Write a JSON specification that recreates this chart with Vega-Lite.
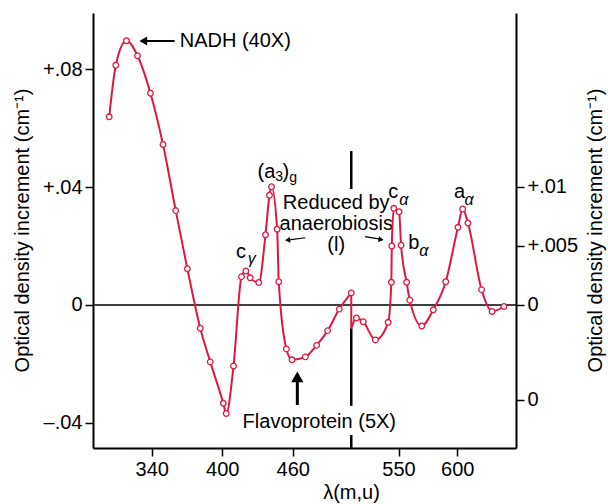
{
  "$schema": "https://vega.github.io/schema/vega-lite/v6.json",
  "width": 423,
  "height": 435,
  "autosize": {"type": "none"},
  "padding": {"left": 93, "top": 13, "right": 92, "bottom": 56},
  "background": "white",
  "config": {
    "view": {"stroke": null},
    "font": "Liberation Sans",
    "axis": {
      "domainColor": "black", "domainWidth": 2, "tickColor": "black", "tickWidth": 1.5, "tickSize": 8,
      "labelFont": "Liberation Sans", "labelFontSize": 20, "labelColor": "black", "labelPadding": 3,
      "titleFont": "Liberation Sans", "titleFontSize": 20, "titleFontWeight": "normal", "titleColor": "black",
      "grid": false, "labelFlush": false
    }
  },
  "datasets": {
    "curveL": [
      {"x": 303.8, "y": 0.0638}, {"x": 309.4, "y": 0.0813}, {"x": 318.5, "y": 0.0896},
      {"x": 327.9, "y": 0.0845}, {"x": 338.9, "y": 0.0718}, {"x": 349.6, "y": 0.0544},
      {"x": 360.4, "y": 0.0320}, {"x": 370.3, "y": 0.0123}, {"x": 381.3, "y": -0.0079},
      {"x": 389.8, "y": -0.0193}, {"x": 400.9, "y": -0.0333}, {"x": 403.4, "y": -0.0368},
      {"x": 409.6, "y": -0.0207}, {"x": 416.4, "y": 0.0096}, {"x": 420.1, "y": 0.0115},
      {"x": 423.8, "y": 0.0092}, {"x": 431.1, "y": 0.0076}, {"x": 436.8, "y": 0.0238},
      {"x": 440.2, "y": 0.0372}, {"x": 441.9, "y": 0.0401}, {"x": 446.7, "y": 0.0257},
      {"x": 448.1, "y": 0.0079}, {"x": 454.6, "y": -0.0149}, {"x": 459.4, "y": -0.0186},
      {"x": 470.7, "y": -0.0176}, {"x": 480.3, "y": -0.0137}, {"x": 489.7, "y": -0.0087},
      {"x": 499.6, "y": -0.0014}, {"x": 509.8, "y": 0.0041}
    ],
    "drop": [{"x": 509.8, "x2": 509.8, "y": 0.0041, "y2": -0.0079}],
    "curveR": [
      {"x": 509.8, "y": -0.00197, "m": 0}, {"x": 514.2, "y": -0.00110, "m": 1}, {"x": 520.0, "y": -0.00142, "m": 1},
      {"x": 530.3, "y": -0.00296, "m": 1}, {"x": 541.2, "y": -0.00147, "m": 1}, {"x": 543.9, "y": 0.00192, "m": 1},
      {"x": 544.3, "y": 0.00500, "m": 1}, {"x": 546.0, "y": 0.00819, "m": 1}, {"x": 550.5, "y": 0.00790, "m": 1},
      {"x": 552.2, "y": 0.00506, "m": 1}, {"x": 556.9, "y": 0.00192, "m": 1}, {"x": 559.6, "y": 0.00041, "m": 1},
      {"x": 569.8, "y": -0.00178, "m": 1}, {"x": 579.6, "y": -0.00041, "m": 1}, {"x": 590.2, "y": 0.00197, "m": 1},
      {"x": 600.6, "y": 0.00658, "m": 1}, {"x": 604.6, "y": 0.00813, "m": 1}, {"x": 609.1, "y": 0.00695, "m": 1},
      {"x": 620.7, "y": 0.00130, "m": 1}, {"x": 629.7, "y": -0.00055, "m": 1}, {"x": 639.7, "y": -0.00013, "m": 1}
    ],
    "zero": [{"x": 290, "x2": 650, "y": 0, "y2": 0}],
    "vlines": [
      {"x": 509.8, "x2": 509.8, "y": 0.0522, "y2": 0.0393},
      {"x": 509.8, "x2": 509.8, "y": -0.0079, "y2": -0.0342},
      {"x": 509.8, "x2": 509.8, "y": -0.0441, "y2": -0.0488}
    ],
    "nadhShaft": [{"x": 332.4, "x2": 359.5, "y": 0.0895, "y2": 0.0895}],
    "nadhHead": [{"x": 332.8, "y": 0.0895}],
    "smallShafts": [
      {"x": 470.7, "x2": 457.1, "y": 0.0228, "y2": 0.0221},
      {"x": 521.4, "x2": 534.4, "y": 0.0232, "y2": 0.0223}
    ],
    "headL": [{"x": 455.6, "y": 0.0220}],
    "headR": [{"x": 535.2, "y": 0.0222}],
    "upShaft": [{"x": 463.9, "x2": 463.9, "y": -0.0339, "y2": -0.0260}],
    "upHead": [{"x": 463.9, "y": -0.0244}],
    "txtL": [
      {"x": 363.8, "y": 0.0895, "t": "NADH (40X)"},
      {"x": 430.0, "y": 0.0451, "t": "(a"},
      {"x": 451.2, "y": 0.0451, "t": ")"},
      {"x": 411.8, "y": 0.0180, "t": "c"},
      {"x": 541.2, "y": 0.0383, "t": "c"},
      {"x": 558.2, "y": 0.0210, "t": "b"},
      {"x": 597.2, "y": 0.0383, "t": "a"}
    ],
    "txtSub": [
      {"x": 445.0, "y": 0.0434, "t": "3"},
      {"x": 457.1, "y": 0.0431, "t": "g"}
    ],
    "txtGreek": [
      {"x": 421.7, "y": 0.0157, "t": "γ"},
      {"x": 550.6, "y": 0.0357, "t": "α"},
      {"x": 567.6, "y": 0.0184, "t": "α"},
      {"x": 606.2, "y": 0.0357, "t": "α"}
    ],
    "txtMulti": [
      {"x": 497.0, "y": 0.0346, "t": "Reduced by\nanaerobiosis\n(l)"}
    ],
    "txtC": [
      {"x": 482.6, "y": -0.0397, "t": "Flavoprotein (5X)"}
    ]
  },
  "encoding": {
    "x": {
      "field": "x", "type": "quantitative",
      "scale": {"domain": [290, 650], "nice": false, "zero": false},
      "axis": {"values": [340, 400, 460, 550, 600], "title": "λ(m,u)", "titleX": 258, "titleY": 44, "titleBaseline": "middle", "titleAlign": "center"}
    }
  },
  "layer": [
    {
      "encoding": {
        "y": {
          "field": "y", "type": "quantitative",
          "scale": {"domain": [-0.0485, 0.0990], "nice": false, "zero": false},
          "axis": {
            "orient": "left", "values": [0.08, 0.04, 0, -0.04],
            "labelExpr": "datum.value > 0.06 ? '+.08' : datum.value > 0.02 ? '+.04' : datum.value > -0.02 ? '0' : '–.04'",
            "title": "Optical density increment (cm⁻¹)", "titleX": -71, "titleY": 217, "titleAngle": 270,
            "titleBaseline": "middle", "titleAlign": "center"
          }
        }
      },
      "layer": [
        {"data": {"name": "zero"}, "mark": {"type": "rule", "color": "black", "strokeWidth": 1.6}, "encoding": {"x2": {"field": "x2"}, "y2": {"field": "y2"}}},
        {"data": {"name": "vlines"}, "mark": {"type": "rule", "color": "black", "strokeWidth": 2.5}, "encoding": {"x2": {"field": "x2"}, "y2": {"field": "y2"}}},
        {"data": {"name": "nadhShaft"}, "mark": {"type": "rule", "color": "black", "strokeWidth": 1.8}, "encoding": {"x2": {"field": "x2"}, "y2": {"field": "y2"}}},
        {"data": {"name": "nadhHead"}, "mark": {"type": "point", "shape": "triangle-left", "filled": true, "color": "black", "size": 80, "opacity": 1}},
        {"data": {"name": "smallShafts"}, "mark": {"type": "rule", "color": "black", "strokeWidth": 1.2}, "encoding": {"x2": {"field": "x2"}, "y2": {"field": "y2"}}},
        {"data": {"name": "headL"}, "mark": {"type": "point", "shape": "triangle-left", "filled": true, "color": "black", "size": 35, "angle": -6, "opacity": 1}},
        {"data": {"name": "headR"}, "mark": {"type": "point", "shape": "triangle-right", "filled": true, "color": "black", "size": 35, "angle": 9, "opacity": 1}},
        {"data": {"name": "upShaft"}, "mark": {"type": "rule", "color": "black", "strokeWidth": 3}, "encoding": {"x2": {"field": "x2"}, "y2": {"field": "y2"}}},
        {"data": {"name": "upHead"}, "mark": {"type": "point", "shape": "triangle-up", "filled": true, "color": "black", "size": 150, "opacity": 1}},
        {"data": {"name": "drop"}, "mark": {"type": "rule", "color": "#e3173e", "strokeWidth": 2}, "encoding": {"x2": {"field": "x2"}, "y2": {"field": "y2"}}},
        {"data": {"name": "curveL"}, "mark": {"type": "line", "color": "#e3173e", "strokeWidth": 2, "interpolate": "monotone"}},
        {"data": {"name": "curveL"}, "mark": {"type": "point", "filled": true, "fill": "white", "stroke": "#e3173e", "strokeWidth": 1.3, "size": 32, "opacity": 1}},
        {"data": {"name": "txtL"}, "mark": {"type": "text", "align": "left", "baseline": "middle", "fontSize": 20, "color": "black"}, "encoding": {"text": {"field": "t"}}},
        {"data": {"name": "txtSub"}, "mark": {"type": "text", "align": "left", "baseline": "middle", "fontSize": 14, "color": "black"}, "encoding": {"text": {"field": "t"}}},
        {"data": {"name": "txtGreek"}, "mark": {"type": "text", "align": "left", "baseline": "middle", "fontSize": 16, "fontStyle": "italic", "color": "black"}, "encoding": {"text": {"field": "t"}}},
        {"data": {"name": "txtMulti"}, "mark": {"type": "text", "align": "center", "baseline": "middle", "fontSize": 20, "lineHeight": 21, "lineBreak": "\n", "color": "black"}, "encoding": {"text": {"field": "t"}}},
        {"data": {"name": "txtC"}, "mark": {"type": "text", "align": "center", "baseline": "middle", "fontSize": 20, "color": "black"}, "encoding": {"text": {"field": "t"}}}
      ]
    },
    {
      "encoding": {
        "y": {
          "field": "y", "type": "quantitative",
          "scale": {"domain": [-0.01212, 0.02474], "nice": false, "zero": false},
          "axis": {
            "orient": "right", "values": [0.01, 0.005, 0, -0.00805],
            "labelExpr": "datum.value > 0.008 ? '+.01' : datum.value > 0.003 ? '+.005' : '0'",
            "title": "Optical density increment (cm⁻¹)", "titleX": 79, "titleY": 217, "titleAngle": 270,
            "titleBaseline": "middle", "titleAlign": "center"
          }
        }
      },
      "layer": [
        {"data": {"name": "curveR"}, "mark": {"type": "line", "color": "#e3173e", "strokeWidth": 2, "interpolate": "monotone"}},
        {"data": {"name": "curveR"}, "transform": [{"filter": "datum.m == 1"}], "mark": {"type": "point", "filled": true, "fill": "white", "stroke": "#e3173e", "strokeWidth": 1.3, "size": 32, "opacity": 1}}
      ]
    }
  ],
  "resolve": {"scale": {"y": "independent"}}
}
